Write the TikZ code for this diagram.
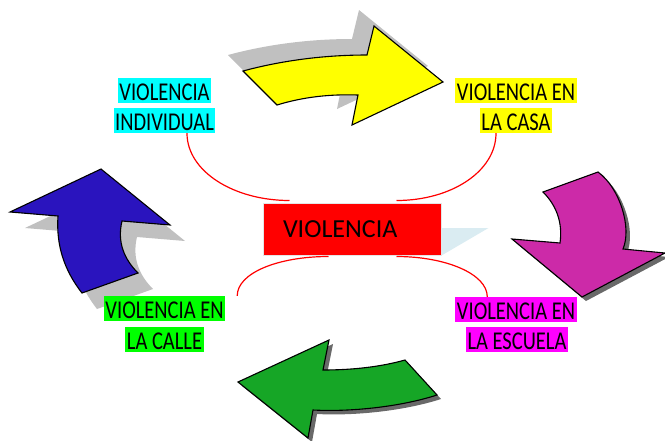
\documentclass[tikz,border=0pt]{standalone}
\usepackage{fontspec}
\setmainfont{Carlito}
\usepackage{graphicx}
\definecolor{arrowyellow}{RGB}{255,255,0}
\definecolor{arrowpink}{RGB}{204,42,168}
\definecolor{arrowgreen}{RGB}{22,166,38}
\definecolor{arrowblue}{RGB}{42,20,190}
\definecolor{shadowlight}{RGB}{192,192,192}
\definecolor{shadowdark}{RGB}{105,105,105}
\definecolor{paleblue}{RGB}{218,236,242}
\definecolor{markcyan}{RGB}{0,255,255}
\definecolor{markyellow}{RGB}{255,255,0}
\definecolor{markgreen}{RGB}{0,255,0}
\definecolor{markpink}{RGB}{255,0,255}
\definecolor{boxred}{RGB}{255,0,0}
\tikzset{
  blockarrow/.style={draw=black, line width=1.1pt, line join=miter},
  lab/.style={inner xsep=1.5pt, inner ysep=0pt, text height=22pt, text depth=3pt, font=\fontsize{20.5}{24}\selectfont},
  link/.style={boxred, line width=1.2pt},
}
% arrow outlines
\newcommand{\yellowshape}{(243,-71) .. controls (280,-61) and (322,-55) .. (367,-55) -- (374,-26) -- (443,-82) -- (352,-125) -- (358,-95) .. controls (330,-94) and (303,-97) .. (277,-105) -- cycle}
\newcommand{\pinkshape}{(560,-243) .. controls (563,-222) and (556,-205) .. (543,-192) -- (598,-172) .. controls (620,-188) and (632,-228) .. (623,-249) -- (665,-253) -- (582,-297) -- (512,-239) -- cycle}
\newcommand{\greenshape}{(238,-382) -- (329,-340) -- (323,-370) .. controls (352,-370) and (380,-367) .. (405,-360) -- (437,-395) .. controls (400,-407) and (350,-412) .. (313,-410) -- (308,-438) -- cycle}
\newcommand{\blueshape}{(101,-169) -- (170,-225) -- (122,-221) .. controls (117,-242) and (124,-259) .. (138,-273) -- (82,-293) .. controls (64,-270) and (56,-245) .. (58,-216) -- (10,-212) -- cycle}
\begin{document}
\begin{tikzpicture}[x=1pt, y=1pt]
  \useasboundingbox (0,0) rectangle (665,-440);
  % shadows
  \fill[shadowlight, shift={(-15,16)}] \yellowshape;
  \fill[shadowlight, shift={(15,-16)}] \blueshape;
  \fill[shadowdark, shift={(4,-4)}] \pinkshape;
  \fill[shadowdark, shift={(4,-4)}] \greenshape;
  % arrows
  \filldraw[blockarrow, fill=arrowyellow] \yellowshape;
  \filldraw[blockarrow, fill=arrowpink] \pinkshape;
  \filldraw[blockarrow, fill=arrowgreen] \greenshape;
  \filldraw[blockarrow, fill=arrowblue] \blueshape;
  % centre box
  \node[fill=boxred, draw=black!10, line width=1pt, minimum height=52pt, text width=138pt, inner xsep=20pt, align=left, font=\fontsize{26}{30}\selectfont] (vio) at (352,-229) {VIOLENCIA};
  \fill[paleblue] ([yshift=1pt]vio.east) -- ++(47,0) -- (vio.south east) -- cycle;
  % labels
  \foreach \nm/\px/\py/\col/\txt in {ind1/164.5/-90.5/markcyan/VIOLENCIA, ind2/164.5/-120.5/markcyan/INDIVIDUAL, cas1/516/-90.5/markyellow/VIOLENCIA EN, cas2/516/-120.5/markyellow/LA CASA, cal1/164.5/-308.5/markgreen/VIOLENCIA EN, cal2/164.5/-339.5/markgreen/LA CALLE, esc1/516/-309.5/markpink/VIOLENCIA EN, esc2/517/-339.5/markpink/LA ESCUELA} {
    \node[lab, fill=\col] (\nm) at (\px,\py) {\scalebox{1}[1.25]{\txt}};
  }
  % links to the centre
  \draw[link] ([xshift=22.5pt]ind2.south) .. controls +(0,-38) and +(-56,0) .. ([xshift=27pt, yshift=2pt]vio.north west);
  \draw[link] ([xshift=-20pt]cas2.south) .. controls +(0,-38) and +(55,0) .. ([xshift=-45pt, yshift=2pt]vio.north east);
  \draw[link] ([xshift=66pt, yshift=-1pt]vio.south west) .. controls +(-50,0) and +(0,23) .. ([xshift=12pt]cal1.north east);
  \draw[link] ([xshift=-45pt, yshift=-1pt]vio.south east) .. controls +(49,0) and +(0,23) .. ([xshift=32pt]esc1.north west);
\end{tikzpicture}
\end{document}
